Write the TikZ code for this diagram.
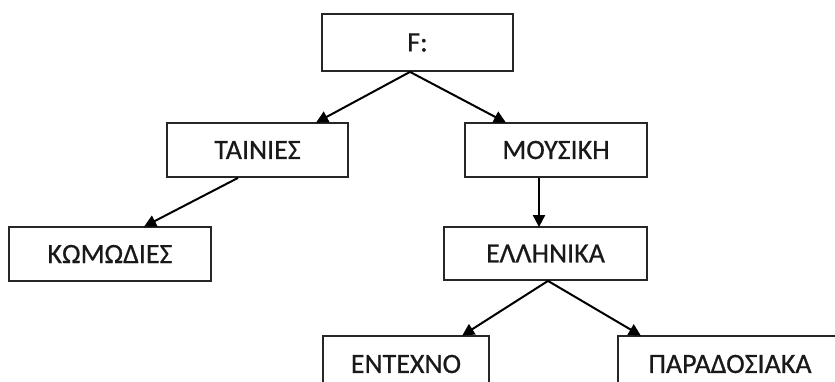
\documentclass[tikz,border=0pt]{standalone}
\usepackage{fontspec}
\setmainfont{Carlito}[FakeBold=0.6]
\usetikzlibrary{arrows.meta}
\begin{document}
\begin{tikzpicture}[x=1pt,y=-1pt,
  box/.style={draw=black!85, line width=1.8pt, fill=white, inner sep=0pt,
    text=black!90, font=\fontsize{28}{33}\selectfont},
  arr/.style={line width=2pt, draw=black,
    -{Triangle[length=12pt,width=12pt]}, shorten >=-1pt}]
  \clip (0,0) rectangle (835,381);
  \fill[white] (0,0) rectangle (835,381);
  % tree of folders
  \node[box, minimum width=191pt, minimum height=57pt] (F) at (417.5,42.5) {F:};
  \node[box, minimum width=181pt, minimum height=54pt] (tain) at (257.5,150) {ΤΑΙΝΙΕΣ};
  \node[box, minimum width=182pt, minimum height=54pt] (mous) at (556,150) {ΜΟΥΣΙΚΗ};
  \node[box, minimum width=202pt, minimum height=54pt] (kom) at (110,254) {ΚΩΜΩΔΙΕΣ};
  \node[box, minimum width=203pt, minimum height=53pt] (ell) at (545.5,253.5) {ΕΛΛΗΝΙΚΑ};
  \node[box, minimum width=166pt, minimum height=56pt] (ent) at (406,364) {ΕΝΤΕΧΝΟ};
  \node[box, minimum width=224pt, minimum height=56pt] (par) at (730,364) {ΠΑΡΑΔΟΣΙΑΚΑ};
  % connectors
  \draw[arr] ([xshift=-7.5pt]F.south) -- ([xshift=59.5pt]tain.north);
  \draw[arr] ([xshift=-7.5pt]F.south) -- ([xshift=-51pt]mous.north);
  \draw[arr] ([xshift=-19.5pt]tain.south) -- ([xshift=35pt]kom.north);
  \draw[arr] ([xshift=-17pt]mous.south) -- ([xshift=-6.5pt]ell.north);
  \draw[arr] ([xshift=2.5pt]ell.south) -- ([xshift=57pt]ent.north);
  \draw[arr] ([xshift=2.5pt]ell.south) -- ([xshift=-90pt]par.north);
\end{tikzpicture}
\end{document}
